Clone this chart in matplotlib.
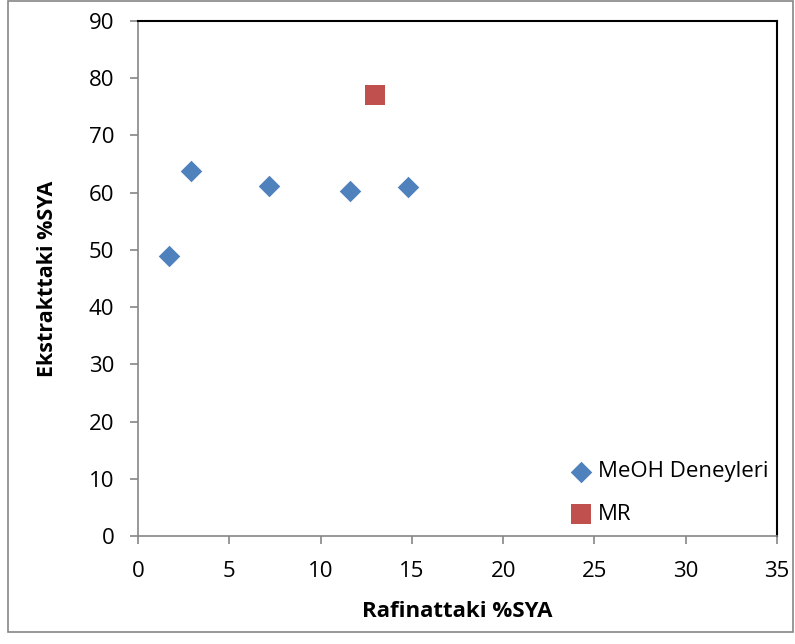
import matplotlib
matplotlib.use("Agg")
import matplotlib.pyplot as plt
from matplotlib.patches import Rectangle

# DATA
meoh_x = [1.7, 2.9, 7.2, 11.6, 14.8]
meoh_y = [49.0, 63.7, 61.1, 60.3, 61.0]
mr_x = [13.0]
mr_y = [77.0]

x_ticks = [0, 5, 10, 15, 20, 25, 30, 35]
y_ticks = [0, 10, 20, 30, 40, 50, 60, 70, 80, 90]

plt.rcParams["font.family"] = ["Open Sans", "DejaVu Sans"]

fig = plt.figure(figsize=(7.95, 6.44), dpi=100)
ax = fig.add_axes([0.1736, 0.1677, 0.8038, 0.7997])

ax.scatter(meoh_x, meoh_y, marker="D", s=120, color="#4F81BD",
           linewidths=0, label="MeOH Deneyleri", zorder=3)
ax.scatter(mr_x, mr_y, marker="s", s=190, color="#C0504D",
           linewidths=0, label="MR", zorder=3)

ax.set_xlim(0, 35)
ax.set_ylim(0, 90)
ax.set_xticks(x_ticks)
ax.set_yticks(y_ticks)

for side in ["left", "bottom"]:
    ax.spines[side].set_color("#868686")
    ax.spines[side].set_linewidth(1.2)
for side in ["top", "right"]:
    ax.spines[side].set_color("black")
    ax.spines[side].set_linewidth(1.5)

ax.tick_params(axis="both", direction="out", length=6, width=1.2,
               color="#868686", labelsize=16)
ax.tick_params(axis="x", pad=12)
ax.tick_params(axis="y", pad=11)

ax.set_xlabel("Rafinattaki %SYA", fontsize=16, fontweight="bold", labelpad=14)
ax.set_ylabel("Ekstrakttaki %SYA", fontsize=15.5, fontweight="bold", labelpad=22)

ax.legend(loc="lower right", frameon=False, fontsize=16,
          handletextpad=0.05, labelspacing=0.95, borderaxespad=0.0,
          handlelength=1.4, bbox_to_anchor=(1.0, 0.005))

# outer chart border
fig.patches.append(Rectangle((0.01, 0.018), 0.988, 0.98, transform=fig.transFigure,
                             fill=False, edgecolor="#868686", linewidth=1.2))

fig.savefig("out.png", dpi=100)
